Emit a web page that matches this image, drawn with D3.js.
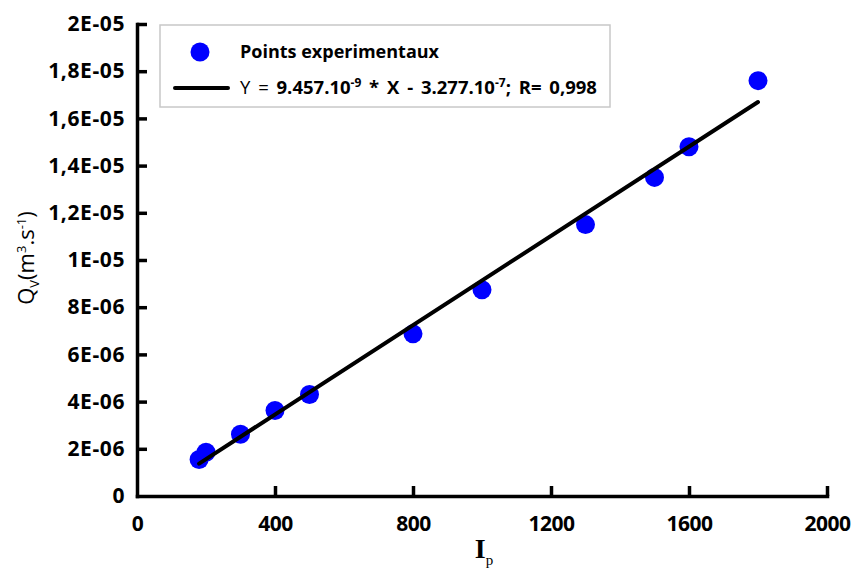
<!DOCTYPE html>
<meta charset="utf-8">
<head>
    <title></title>
    <script src="https://d3js.org/d3.v7.min.js"></script>
</head>
<style>
    body{ margin:0; background:#fff; }
    text{ font-family: "Open Sans", sans-serif; }
</style>
<svg width="856" height="571"></svg>
<script>
    // measured points
    var ip = [180, 200, 300, 400, 500, 800, 1000, 1300, 1500, 1600, 1800];
    var qv = [1.55e-6, 1.85e-6, 2.62e-6, 3.62e-6, 4.3e-6, 6.87e-6, 8.74e-6, 1.15e-5, 1.35e-5, 1.48e-5, 1.76e-5];
    var xTicks = [0, 400, 800, 1200, 1600, 2000];
    var yTicks = [0, 2e-6, 4e-6, 6e-6, 8e-6, 1e-5, 1.2e-5, 1.4e-5, 1.6e-5, 1.8e-5, 2e-5];
    var yTickLabels = ['0', '2E-06', '4E-06', '6E-06', '8E-06', '1E-05', '1,2E-05', '1,4E-05', '1,6E-05', '1,8E-05', '2E-05'];
    var slope = 9.457e-9, intercept = -3.277e-7;
    var fitRange = [180, 1800];

    var plot = {left: 137, right: 827, top: 24, bottom: 496};

    var svg = d3.select('svg');
    var x = d3.scaleLinear().domain([0, 2000]).range([plot.left, plot.right]);
    var y = d3.scaleLinear().domain([0, 2e-5]).range([plot.bottom, plot.top]);

    // axes
    var xAxis = d3.axisBottom(x).tickValues(xTicks).tickSizeInner(-10).tickSizeOuter(0).tickPadding(18)
        .tickFormat(d3.format('d'));
    var gx = svg.append('g').attr('transform', 'translate(0,' + plot.bottom + ')').call(xAxis);
    var yAxis = d3.axisLeft(y).tickValues(yTicks).tickSizeInner(-10).tickSizeOuter(0).tickPadding(12)
        .tickFormat(function(d, i){ return yTickLabels[i]; });
    var gy = svg.append('g').attr('transform', 'translate(' + plot.left + ',0)').call(yAxis);

    [gx, gy].forEach(function(g){
        g.select('.domain').attr('stroke', '#000').attr('stroke-width', 3.5).attr('stroke-linecap', 'square');
        g.selectAll('.tick line').attr('stroke', '#000').attr('stroke-width', 3.5);
        g.selectAll('.tick text').attr('fill', '#000').style('font-size', '21px').style('font-weight', 'bold')
            .style('font-family', '"Open Sans", sans-serif');
    });
    gy.selectAll('.tick text').attr('letter-spacing', '0.6');
    gx.selectAll('.tick text').attr('dy', '0.8em').attr('letter-spacing', '-0.5');
    gx.selectAll('.tick').filter(function(d){ return d === 0; }).select('line').remove();
    gy.selectAll('.tick').filter(function(d){ return d === 0; }).select('line').remove();

    function fitLine(){
        svg.append('line')
            .attr('x1', x(fitRange[0])).attr('y1', y(slope * fitRange[0] + intercept))
            .attr('x2', x(fitRange[1])).attr('y2', y(slope * fitRange[1] + intercept))
            .attr('stroke', '#000').attr('stroke-width', 4).attr('stroke-linecap', 'round');
    }

    // points
    svg.append('g').selectAll('circle').data(ip).enter().append('circle')
        .attr('cx', function(d){ return x(d); })
        .attr('cy', function(d, i){ return y(qv[i]); })
        .attr('r', 9.5)
        .attr('fill', '#0000ff');

    fitLine();

    // legend
    var lg = svg.append('g');
    lg.append('rect').attr('x', 160).attr('y', 25).attr('width', 450).attr('height', 82)
        .attr('fill', '#fff').attr('stroke', '#c8c8c8').attr('stroke-width', 1.5);
    lg.append('circle').attr('cx', 200).attr('cy', 52).attr('r', 9.5).attr('fill', '#0000ff');
    lg.append('text').attr('x', 240).attr('y', 58).style('font-size', '18px').style('font-weight', 'bold')
        .text('Points experimentaux');
    lg.append('line').attr('x1', 175).attr('x2', 228).attr('y1', 88).attr('y2', 88)
        .attr('stroke', '#000').attr('stroke-width', 4).attr('stroke-linecap', 'round');
    var t2 = lg.append('text').attr('x', 240).attr('y', 94).style('font-size', '18.5px').style('font-weight', 'bold')
        .attr('word-spacing', '3');
    t2.append('tspan').style('font-weight', 'normal').text('Y = ');
    t2.append('tspan').text('9.457.10');
    t2.append('tspan').attr('dy', -7).style('font-size', '12px').text('-9');
    t2.append('tspan').attr('dy', 7).text(' * X - 3.277.10');
    t2.append('tspan').attr('dy', -7).style('font-size', '12px').text('-7');
    t2.append('tspan').attr('dy', 7).text('; R= 0,998');

    // y title
    var yt = svg.append('text').attr('transform', 'translate(34,258) rotate(-90)').attr('text-anchor', 'middle')
        .style('font-size', '22px');
    yt.append('tspan').text('Q');
    yt.append('tspan').attr('dy', 5).style('font-size', '13px').text('V');
    yt.append('tspan').attr('dy', -5).text('(m');
    yt.append('tspan').attr('dy', -8).style('font-size', '13px').text('3');
    yt.append('tspan').attr('dy', 8).text('.s');
    yt.append('tspan').attr('dy', -8).style('font-size', '13px').text('-1');
    yt.append('tspan').attr('dy', 8).text(')');

    // x title
    var xt = svg.append('text').attr('x', 484).attr('y', 558).attr('text-anchor', 'middle')
        .style('font-family', '"Liberation Serif", serif').style('font-size', '28px').style('font-weight', 'bold');
    xt.append('tspan').text('I');
    xt.append('tspan').attr('dy', 7).style('font-size', '15px').style('font-weight', 'normal').text('p');
</script>
